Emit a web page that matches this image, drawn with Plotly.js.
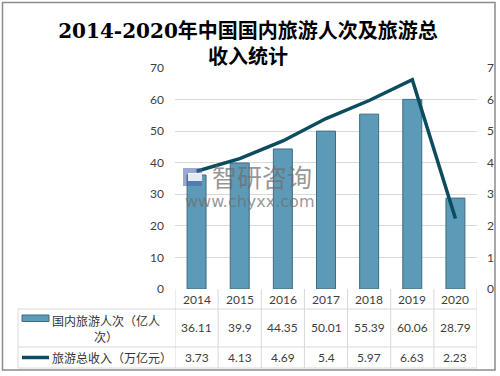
<!DOCTYPE html>
<html><head><meta charset="utf-8">
<script src="https://cdn.plot.ly/plotly-3.0.1.min.js"></script>
<style>html,body{margin:0;padding:0;background:#fff;} #chart{width:500px;height:376px;}</style>
</head><body><div id="chart"></div>
<script>
const years = ['2014','2015','2016','2017','2018','2019','2020'];
const visitors = [36.11, 39.9, 44.35, 50.01, 55.39, 60.06, 28.79];
const revenue = [3.73, 4.13, 4.69, 5.4, 5.97, 6.63, 2.23];
const visitorsLabel = '国内旅游人次（亿人<br>次）';
const revenueLabel = '旅游总收入（万亿元）';
const titleText = '2014-2020年中国国内旅游人次及旅游总<br>收入统计';

const W = 500, H = 376, L = 175, R = 23, T = 68, B = 87;
const PW = W - L - R, PH = H - T - B;
const px = v => (v - L) / PW;
const py = v => (H - B - v) / PH;

const gridColor = '#d9d9d9';
const textColor = '#404040';
const numFont = {family: 'Lato, Carlito, "Liberation Sans", sans-serif', size: 12, color: textColor};
const cjkFont = {family: '"Noto Sans CJK SC", sans-serif', size: 12, color: '#333333'};

const barTrace = {
  type: 'bar', x: years, y: visitors, name: '国内旅游人次（亿人次）',
  width: 0.44,
  marker: {color: '#5d9ab7', line: {color: '#3e6c80', width: 1}},
  hoverinfo: 'x+y'
};
const lineTrace = {
  type: 'scatter', mode: 'lines', x: years, y: revenue, yaxis: 'y2',
  name: '旅游总收入（万亿元）',
  line: {color: '#0c4c5f', width: 3.5}
};

const annotations = [];
years.forEach((yr, i) => {
  annotations.push({xref: 'x', yref: 'paper', x: i, y: py(299.5), text: yr, showarrow: false, font: numFont, xanchor: 'center', yanchor: 'middle'});
  annotations.push({xref: 'x', yref: 'paper', x: i, y: py(327.5), text: String(visitors[i]), showarrow: false, font: numFont, xanchor: 'center', yanchor: 'middle'});
  annotations.push({xref: 'x', yref: 'paper', x: i, y: py(357.5), text: String(revenue[i]), showarrow: false, font: numFont, xanchor: 'center', yanchor: 'middle'});
});
annotations.push({xref: 'paper', yref: 'paper', x: px(50), y: py(328), text: visitorsLabel, showarrow: false, font: cjkFont, xanchor: 'left', yanchor: 'middle', align: 'center'});
annotations.push({xref: 'paper', yref: 'paper', x: px(50), y: py(357.5), text: revenueLabel, showarrow: false, font: cjkFont, xanchor: 'left', yanchor: 'middle', align: 'left'});
// watermark
annotations.push({xref: 'paper', yref: 'paper', x: px(262), y: py(176), text: '智研咨询', showarrow: false, font: {family: '"Noto Sans CJK SC", sans-serif', size: 25, color: 'rgba(110,110,110,0.72)'}, xanchor: 'center', yanchor: 'middle'});
annotations.push({xref: 'paper', yref: 'paper', x: px(249), y: py(201), text: 'www.chyxx.com', showarrow: false, font: {family: '"DejaVu Sans", sans-serif', size: 16, color: 'rgba(110,110,110,0.72)'}, xanchor: 'center', yanchor: 'middle'});

const lineStyle = {color: gridColor, width: 1};
const shapes = [];
// vertical table lines
for (let k = 0; k <= years.length; k++) {
  shapes.push({type: 'line', xref: 'x', yref: 'paper', x0: k - 0.5, x1: k - 0.5, y0: py(289), y1: py(368), line: lineStyle});
}
shapes.push({type: 'line', xref: 'paper', yref: 'paper', x0: px(18), x1: px(18), y0: py(309), y1: py(368), line: lineStyle});
[309, 347, 368].forEach(yy => {
  shapes.push({type: 'line', xref: 'paper', yref: 'paper', x0: px(18), x1: px(477), y0: py(yy), y1: py(yy), line: lineStyle});
});
// legend keys
shapes.push({type: 'rect', xref: 'paper', yref: 'paper', x0: px(22), x1: px(49), y0: py(321.5), y1: py(315), fillcolor: '#5d9ab7', line: {color: '#3e6c80', width: 1}});
shapes.push({type: 'line', xref: 'paper', yref: 'paper', x0: px(22), x1: px(49), y0: py(357.5), y1: py(357.5), line: {color: '#0c4c5f', width: 3.5}});
// watermark icon
shapes.push({type: 'rect', xref: 'paper', yref: 'paper', x0: px(183), x1: px(202), y0: py(186), y1: py(168), fillcolor: 'rgba(70,100,170,0.55)', line: {width: 0}});
shapes.push({type: 'rect', xref: 'paper', yref: 'paper', x0: px(188), x1: px(202), y0: py(181), y1: py(173), fillcolor: 'rgba(255,255,255,0.85)', line: {width: 0}});
// outer frame
shapes.push({type: 'rect', xref: 'paper', yref: 'paper', x0: px(2.5), x1: px(495), y0: py(370), y1: py(2.5), line: {color: '#8c8c8c', width: 1.5}});

const layout = {
  width: W, height: H,
  margin: {l: L, r: R, t: T, b: B, pad: 0},
  paper_bgcolor: '#ffffff', plot_bgcolor: '#ffffff',
  showlegend: false,
  title: {
    text: titleText, x: 0.496, xanchor: 'center', y: 0.90, yanchor: 'top',
    font: {family: '"DejaVu Serif", "Noto Sans CJK SC", serif', size: 20, color: '#000000', weight: 'bold'}
  },
  xaxis: {
    type: 'category', range: [-0.5, 6.5], showticklabels: false, showgrid: false,
    zeroline: false, showline: false, ticks: '', automargin: false, fixedrange: true
  },
  yaxis: {
    range: [0, 70], dtick: 10, showgrid: true, gridcolor: gridColor, gridwidth: 1,
    zeroline: false, showline: false, ticks: '', ticklabelstandoff: 10,
    tickfont: numFont, automargin: false, fixedrange: true
  },
  yaxis2: {
    overlaying: 'y', side: 'right', range: [0, 7], dtick: 1, showgrid: false,
    zeroline: false, showline: false, ticks: '', ticklabelstandoff: 9,
    tickfont: numFont, automargin: false, fixedrange: true
  },
  annotations: annotations,
  shapes: shapes
};

Plotly.newPlot('chart', [barTrace, lineTrace], layout, {displayModeBar: false, staticPlot: true});
</script>
</body></html>
